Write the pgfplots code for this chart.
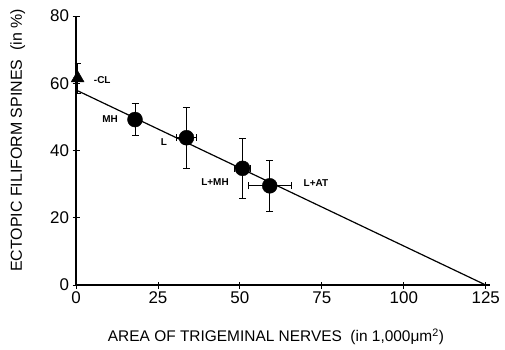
\documentclass[border=0pt]{standalone}
\usepackage{pgfplots}
\pgfplotsset{compat=1.18}
\usepackage{fontspec}
\setmainfont{Liberation Sans}
\begin{document}
\begin{tikzpicture}
\begin{axis}[
  scale only axis, width=414bp, height=269bp,
  xmin=0, xmax=126.3, ymin=0, ymax=80,
  axis x line=bottom, axis y line=left,
  axis line style={-, line width=1.1pt},
  xtick={0,25,50,75,100,125}, ytick={0,20,40,60,80},
  tick align=center, major tick length=7bp,
  tick style={line width=0.9pt, black},
  ticklabel style={font=\fontsize{17}{17}\selectfont},
  /pgf/number format/assume math mode=true,
  xlabel={AREA OF TRIGEMINAL NERVES\ \ (in 1,000μm\textsuperscript{2})},
  ylabel={ECTOPIC FILIFORM SPINES\ \ (in \%)},
  xlabel style={font=\fontsize{15.5}{15.5}\selectfont, at={(axis description cs:0.483,-0.193)}, anchor=center},
  ylabel style={font=\fontsize{16}{16}\selectfont, at={(axis description cs:-0.141,0.537)}, anchor=center},
  clip=false,
]
\addplot[black, line width=1.2pt] coordinates {(0,58) (125,0)};
\addplot[only marks, mark=*, mark size=7.5bp, black,
  error bars/.cd, y dir=both, y explicit, x dir=both, x explicit,
  error bar style={line width=0.9pt},
  error mark options={rotate=90, mark size=3.5bp, line width=0.9pt}]
  coordinates {
  (18,49.2) +- (0,4.8)
  (33.7,43.8) +- (3,9)
  (50.8,34.7) +- (2.5,9)
  (59.1,29.5) +- (6.6,7.5)
};
\addplot[only marks, mark=triangle*, mark size=7.5bp, black,
  error bars/.cd, y dir=both, y explicit,
  error bar style={line width=0.9pt},
  error mark options={rotate=90, mark size=3bp, line width=0.9pt}]
  coordinates {(0.5,61.5) +- (0,4.5)};
\begin{scope}[every node/.style={font=\fontsize{10}{10}\selectfont\bfseries}]
\node at (axis cs:8,61) {-CL};
\node at (axis cs:10.4,49.4) {MH};
\node at (axis cs:26.8,42.4) {L};
\node at (axis cs:42.4,30.7) {L+MH};
\node at (axis cs:73.2,30.4) {L+AT};
\end{scope}
\path (axis description cs:-0.1836,-0.2379) rectangle (axis description cs:1.0362,1.0595);
\end{axis}
\end{tikzpicture}
\end{document}
